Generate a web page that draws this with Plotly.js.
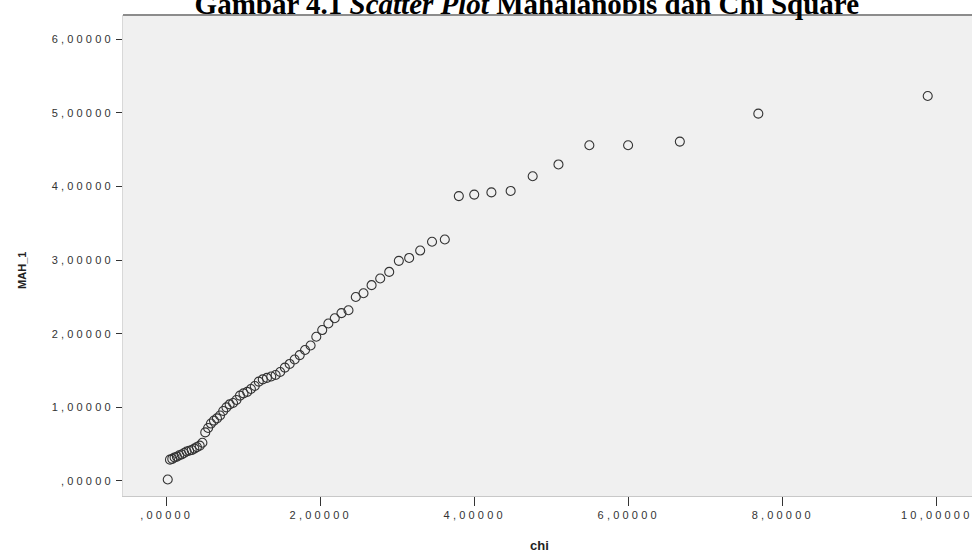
<!DOCTYPE html>
<html>
<head>
<meta charset="utf-8">
<script src="https://cdn.plot.ly/plotly-3.0.1.min.js"></script>
<style>
html, body { margin: 0; padding: 0; background: #ffffff; }
#chart { width: 972px; height: 554px; }
.xtick text, .ytick text { letter-spacing: 3.2px; }
</style>
</head>
<body>
<div id="chart"></div>
<script>
// chi-square quantiles (x) and sorted Mahalanobis distances (y)
var chi = [0.014, 0.043, 0.073, 0.103, 0.133, 0.164, 0.195, 0.227, 0.259, 0.292,
           0.325, 0.359, 0.393, 0.429, 0.464, 0.501, 0.538, 0.575, 0.614, 0.653,
           0.693, 0.734, 0.776, 0.818, 0.862, 0.906, 0.952, 0.998, 1.046, 1.094,
           1.144, 1.196, 1.248, 1.302, 1.358, 1.415, 1.474, 1.535, 1.597, 1.662,
           1.728, 1.797, 1.869, 1.943, 2.020, 2.100, 2.183, 2.270, 2.361, 2.456,
           2.556, 2.661, 2.773, 2.890, 3.015, 3.149, 3.292, 3.446, 3.612, 3.794,
           3.994, 4.217, 4.467, 4.753, 5.088, 5.489, 5.992, 6.664, 7.683, 9.883];
var mah = [0.02, 0.29, 0.30, 0.32, 0.33, 0.35, 0.36, 0.38, 0.40, 0.41,
           0.42, 0.44, 0.46, 0.48, 0.52, 0.66, 0.72, 0.78, 0.82, 0.85,
           0.89, 0.95, 1.00, 1.04, 1.06, 1.10, 1.16, 1.19, 1.21, 1.25,
           1.29, 1.35, 1.38, 1.40, 1.42, 1.44, 1.48, 1.54, 1.59, 1.65,
           1.71, 1.78, 1.84, 1.96, 2.05, 2.14, 2.21, 2.28, 2.32, 2.50,
           2.55, 2.66, 2.75, 2.84, 2.99, 3.03, 3.13, 3.25, 3.28, 3.87,
           3.89, 3.92, 3.94, 4.14, 4.30, 4.56, 4.56, 4.61, 4.99, 5.23];
var xTickVals = [0, 2, 4, 6, 8, 10];
var xTickText = [',00000', '2,00000', '4,00000', '6,00000', '8,00000', '10,00000'];
var yTickVals = [0, 1, 2, 3, 4, 5, 6];
var yTickText = [',00000', '1,00000', '2,00000', '3,00000', '4,00000', '5,00000', '6,00000'];
var xTitle = 'chi';
var yTitle = 'MAH_1';

var trace = {
  x: chi,
  y: mah,
  type: 'scatter',
  mode: 'markers',
  marker: { symbol: 'circle-open', size: 9, color: '#333333', line: { width: 1.1, color: '#333333' } },
  hoverinfo: 'x+y'
};

var layout = {
  width: 972,
  height: 554,
  margin: { l: 123, r: 0, t: 15, b: 58 },
  paper_bgcolor: '#ffffff',
  plot_bgcolor: '#f0f0f0',
  showlegend: false,
  title: {
    text: '<b>Gambar 4.1 <i>Scatter Plot</i> Mahalanobis dan Chi Square</b>',
    font: { family: 'Liberation Serif', size: 29, color: '#000000' },
    x: 0.542, xanchor: 'center',
    y: 0.975, yref: 'container', yanchor: 'bottom'
  },
  xaxis: {
    range: [-0.567, 10.458],
    tickmode: 'array', tickvals: xTickVals, ticktext: xTickText,
    ticks: 'outside', ticklen: 9, tickcolor: '#333333', tickwidth: 1,
    ticklabeloverflow: 'allow',
    showgrid: false, zeroline: false,
    showline: true, linecolor: '#c8c8c8', linewidth: 1,
    tickfont: { family: 'Liberation Sans', size: 11, color: '#333333' },
    automargin: false
  },
  yaxis: {
    range: [-0.204, 6.33],
    tickmode: 'array', tickvals: yTickVals, ticktext: yTickText,
    ticks: 'outside', ticklen: 6, tickcolor: '#333333', tickwidth: 1,
    ticklabeloverflow: 'allow',
    showgrid: false, zeroline: false,
    showline: true, linecolor: '#d8d8d8', linewidth: 1,
    tickfont: { family: 'Liberation Sans', size: 11, color: '#333333' },
    automargin: false
  },
  annotations: [
    { text: '<b>' + xTitle + '</b>', xref: 'paper', yref: 'paper', x: 0.491, y: -0.102,
      xanchor: 'center', yanchor: 'middle', showarrow: false,
      font: { family: 'Liberation Sans', size: 13, color: '#222222' } },
    { text: '<b>' + yTitle + '</b>', xref: 'paper', yref: 'paper', x: -0.119, y: 0.47,
      xanchor: 'center', yanchor: 'middle', showarrow: false, textangle: -90,
      font: { family: 'Liberation Sans', size: 11, color: '#222222' } }
  ],
  shapes: [
    { type: 'line', xref: 'paper', yref: 'paper', x0: 0, x1: 1, y0: 1, y1: 1,
      line: { color: '#8c8c8c', width: 2 } }
  ]
};

Plotly.newPlot('chart', [trace], layout, { displayModeBar: false, staticPlot: true });
</script>
</body>
</html>
